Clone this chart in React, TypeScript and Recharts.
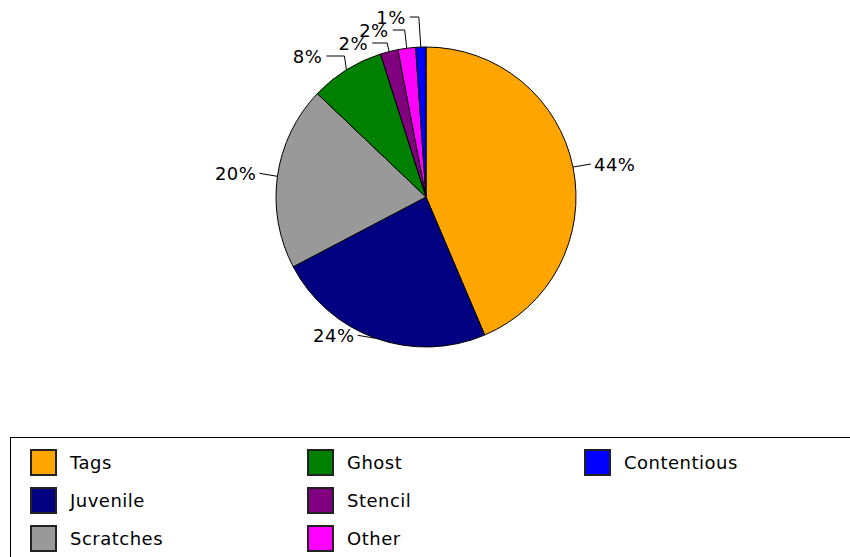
import { PieChart, Pie, Cell, Legend } from "recharts";

const CATEGORIES = ["Tags", "Juvenile", "Scratches", "Ghost", "Stencil", "Other", "Contentious"];
const SHARES = [43.6, 23.7, 19.8, 8.0, 1.9, 1.9, 1.1];
const COLORS = ["#ffa500", "#000080", "#999999", "#008000", "#800080", "#ff00ff", "#0000ff"];

const data = CATEGORIES.map((name, i) => ({ name, value: SHARES[i] }));
const TOTAL = SHARES.reduce((a, b) => a + b, 0);

// the trailing run of thin slices gets stacked labels above the pie
let firstSmall = SHARES.length;
while (firstSmall > 0 && SHARES[firstSmall - 1] / TOTAL < 0.1) firstSmall--;

const FONT = "'DejaVu Sans', Verdana, sans-serif";
const RAD = Math.PI / 180;

const renderLabel = (props: any) => {
    const { cx, cy, midAngle, outerRadius, index } = props;
    const ex = cx + outerRadius * Math.cos(-midAngle * RAD);
    const ey = cy + outerRadius * Math.sin(-midAngle * RAD);
    const text = `${Math.round((SHARES[index] / TOTAL) * 100)}%`;

    if (index >= firstSmall && ey < cy) {
        const step = SHARES.length - 1 - index;
        const ly = cy - outerRadius - 30 + step * 13;
        const hx = ex - 11 - step * 3;
        return (
            <g key={`lbl-${index}`}>
                <polyline
                    points={`${ex},${ey} ${ex - 2},${ly} ${hx},${ly}`}
                    fill="none"
                    stroke="#000"
                    strokeWidth={1}
                />
                <text
                    x={hx - 4}
                    y={ly}
                    textAnchor="end"
                    dominantBaseline="central"
                    fontFamily={FONT}
                    fontSize={18}
                    letterSpacing={0.5}
                    fill="#000"
                >
                    {text}
                </text>
            </g>
        );
    }

    const right = ex >= cx;
    const lx = right ? ex + 18 : ex - 18;
    const ly = ey - 3;
    return (
        <g key={`lbl-${index}`}>
            <line x1={ex} y1={ey} x2={lx} y2={ly} stroke="#000" strokeWidth={1} />
            <text
                x={right ? lx + 3 : lx - 3}
                y={ly}
                textAnchor={right ? "start" : "end"}
                dominantBaseline="central"
                fontFamily={FONT}
                fontSize={18}
                letterSpacing={0.5}
                fill="#000"
            >
                {text}
            </text>
        </g>
    );
};

const LegendBox = ({ payload }: any) => {
    const items = [...(payload || [])].sort(
        (a: any, b: any) => CATEGORIES.indexOf(a.value) - CATEGORIES.indexOf(b.value)
    );
    return (
        <div
            style={{
                position: "relative",
                width: 845,
                height: 130,
                border: "1px solid #000",
                boxSizing: "border-box",
                background: "#fff",
            }}
        >
            {items.map((entry: any, i: number) => {
                const col = Math.floor(i / 3);
                const row = i % 3;
                return (
                    <div
                        key={entry.value}
                        style={{
                            position: "absolute",
                            left: 19 + col * 277,
                            top: 11 + row * 38,
                            display: "flex",
                            alignItems: "center",
                            height: 27,
                        }}
                    >
                        <div
                            style={{
                                width: 27,
                                height: 27,
                                boxSizing: "border-box",
                                border: "2px solid #222",
                                backgroundColor: entry.color,
                            }}
                        />
                        <span
                            style={{
                                marginLeft: 13,
                                fontFamily: FONT,
                                fontSize: 18,
                                letterSpacing: 0.5,
                                color: "#000",
                            }}
                        >
                            {entry.value}
                        </span>
                    </div>
                );
            })}
        </div>
    );
};

const App = () => {
    return (
        <div
            style={{
                position: "absolute",
                left: 0,
                top: 0,
                width: 850,
                height: 557,
                overflow: "hidden",
                background: "#fff",
            }}
        >
            <PieChart width={850} height={557} margin={{ top: 0, right: 0, bottom: 0, left: 0 }}>
                <Pie
                    data={data}
                    dataKey="value"
                    nameKey="name"
                    cx={426}
                    cy={197}
                    outerRadius={150}
                    startAngle={90}
                    endAngle={-270}
                    stroke="#000"
                    strokeWidth={1}
                    label={renderLabel}
                    labelLine={false}
                    isAnimationActive={false}
                >
                    {data.map((d, i) => (
                        <Cell key={d.name} fill={COLORS[i]} />
                    ))}
                </Pie>
                <Legend
                    content={<LegendBox />}
                    wrapperStyle={{ position: "absolute", left: 10, top: 437, bottom: "auto", width: 845 }}
                />
            </PieChart>
        </div>
    );
};

export default App;
